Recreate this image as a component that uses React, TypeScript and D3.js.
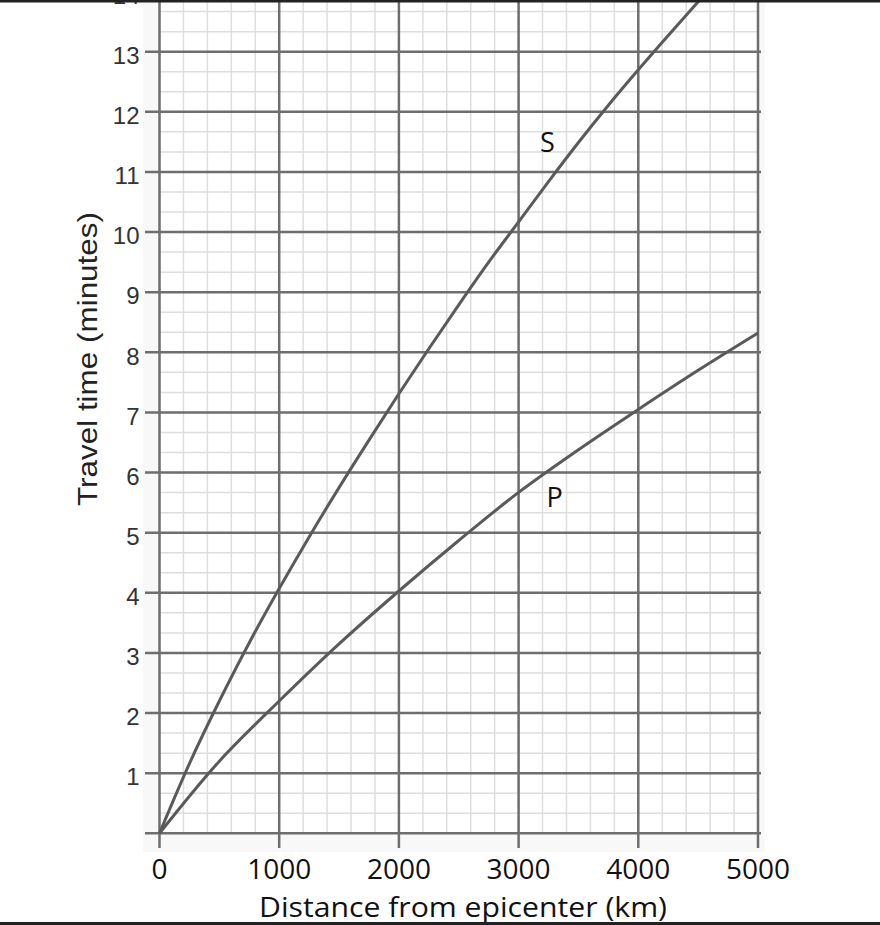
import React from "react";
import * as d3 from "d3";

// S-wave travel time curve (distance km, minutes)
const sDist = [0, 250, 500, 750, 1000, 1250, 1500, 1750, 2000, 2250, 2500, 2750, 3000, 3250, 3500, 3750, 4000, 4250, 4500, 4750];
const sTime = [0, 1.16, 2.2, 3.17, 4.07, 4.93, 5.75, 6.54, 7.31, 8.06, 8.79, 9.5, 10.17, 10.84, 11.49, 12.11, 12.7, 13.27, 13.83, 14.38];
// P-wave travel time curve
const pDist = [0, 500, 1000, 1500, 2000, 2500, 3000, 3500, 4000, 4500, 5000];
const pTime = [0, 1.2, 2.2, 3.15, 4.03, 4.87, 5.67, 6.38, 7.05, 7.7, 8.32];

const xTicks = [0, 1000, 2000, 3000, 4000, 5000];
const yTicks = [1, 2, 3, 4, 5, 6, 7, 8, 9, 10, 11, 12, 13, 14];
const curveLabels = [
  { text: "S", d: 3240, t: 11.5 },
  { text: "P", d: 3300, t: 5.6 },
];

const W = 880;
const H = 925;

export default function App() {
  const x = d3.scaleLinear().domain([0, 5000]).range([159.5, 758]);
  const y = d3.scaleLinear().domain([0, 13]).range([833.3, 51.7]);

  const xMinor = d3.range(0, 5001, 200);
  const yMinor = d3.range(0, 43).map((i) => i / 3).filter((v) => v <= 14.4);

  const line = d3
    .line<[number, number]>()
    .x((d) => x(d[0]))
    .y((d) => y(d[1]))
    .curve(d3.curveCatmullRom.alpha(0.5));

  const sPts: [number, number][] = sDist.map((d, i) => [d, sTime[i]]);
  const pPts: [number, number][] = pDist.map((d, i) => [d, pTime[i]]);

  const x0 = x(0);
  const x1 = x(5000);
  const yTop = y(14.5);
  const yBot = y(0);

  return (
    <svg
      width={W}
      height={H}
      style={{ position: "absolute", left: 0, top: 0, background: "#fff" }}
    >
      <rect x={143} y={0} width={622} height={852} fill="#f8f8f8" />
      <rect x={x0} y={0} width={x1 - x0} height={yBot} fill="#ffffff" />
      {/* minor grid */}
      {xMinor.map((v) => (
        <line key={"xm" + v} x1={x(v)} x2={x(v)} y1={yTop} y2={yBot} stroke="#dedede" strokeWidth={1.5} />
      ))}
      {yMinor.map((v, i) => (
        <line key={"ym" + i} x1={x0} x2={x1} y1={y(v)} y2={y(v)} stroke="#dedede" strokeWidth={1.5} />
      ))}
      {/* major grid with ticks */}
      {yTicks.map((v) => (
        <line key={"yM" + v} x1={145} x2={x1 + 3} y1={y(v)} y2={y(v)} stroke="#6e6e6e" strokeWidth={2.5} />
      ))}
      <line x1={145} x2={x1 + 3} y1={yBot} y2={yBot} stroke="#6e6e6e" strokeWidth={2.5} />
      {xTicks.map((v) => (
        <line key={"xM" + v} x1={x(v)} x2={x(v)} y1={yTop} y2={848} stroke="#6e6e6e" strokeWidth={2.5} />
      ))}
      {/* curves */}
      <path d={line(sPts) ?? ""} fill="none" stroke="#5a5a5a" strokeWidth={3} />
      <path d={line(pPts) ?? ""} fill="none" stroke="#5a5a5a" strokeWidth={3} />
      {curveLabels.map((c) => (
        <text
          key={c.text}
          x={x(c.d)}
          y={y(c.t)}
          textAnchor="middle"
          dominantBaseline="central"
          fontFamily="'Open Sans', sans-serif"
          fontSize={27}
          fill="#111"
        >
          {c.text}
        </text>
      ))}
      {/* y tick labels */}
      {yTicks.map((v) => (
        <text
          key={"yl" + v}
          x={139.5}
          y={y(v) + 12.3}
          textAnchor="end"
          fontFamily="'Liberation Sans', Arial, sans-serif"
          fontSize={24}
          fill="#333"
        >
          {v}
        </text>
      ))}
      {/* x tick labels */}
      {xTicks.map((v) => (
        <text
          key={"xl" + v}
          x={x(v)}
          y={879}
          textAnchor="middle"
          fontFamily="'Open Sans', sans-serif"
          fontSize={28}
          fill="#111"
        >
          {v}
        </text>
      ))}
      <text
        x={463}
        y={917}
        textAnchor="middle"
        fontFamily="'Open Sans', sans-serif"
        fontSize={27}
        textLength={408}
        lengthAdjust="spacingAndGlyphs"
        fill="#111"
      >
        Distance from epicenter (km)
      </text>
      <text
        transform={`translate(97, 359) rotate(-90)`}
        textAnchor="middle"
        fontFamily="'Liberation Sans', Arial, sans-serif"
        fontSize={28}
        textLength={294}
        lengthAdjust="spacingAndGlyphs"
        fill="#222"
      >
        Travel time (minutes)
      </text>
      {/* border lines of the clipping */}
      <rect x={0} y={0} width={W} height={2.5} fill="#222" />
      <rect x={0} y={922} width={W} height={3} fill="#222" />
    </svg>
  );
}
